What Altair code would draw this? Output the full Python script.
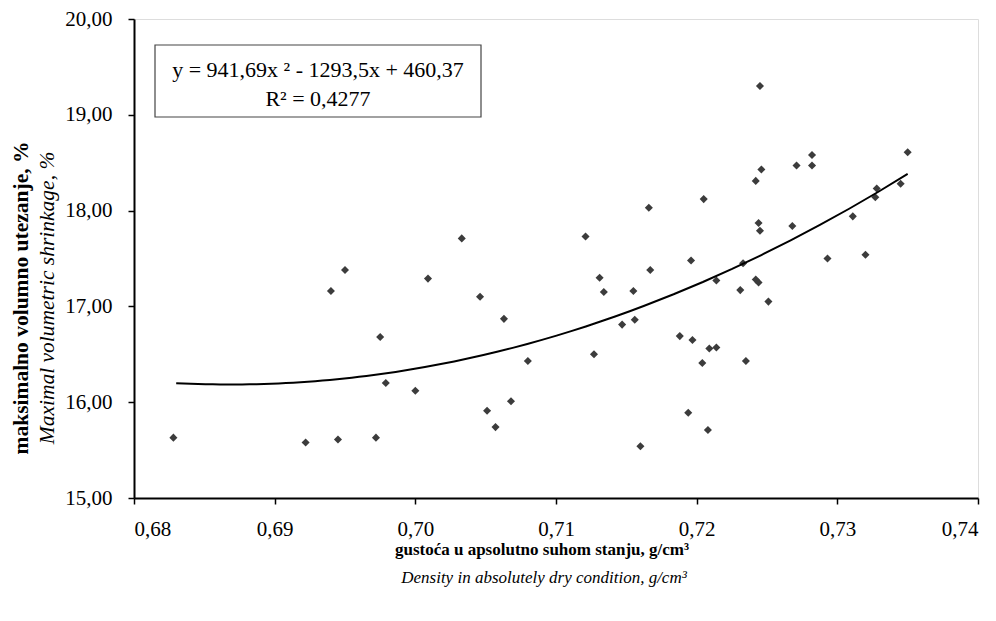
import altair as alt
import pandas as pd

density = [0.6828, 0.6950, 0.6940, 0.7009, 0.6975, 0.6979, 0.7000, 0.6922, 0.6945, 0.6972,
           0.7046, 0.7063, 0.7080, 0.7051, 0.7068, 0.7057, 0.7127, 0.7131, 0.7134, 0.7167,
           0.7155, 0.7147, 0.7156, 0.7160, 0.7196, 0.7188, 0.7197, 0.7194, 0.7233, 0.7214,
           0.7242, 0.7244, 0.7231, 0.7251, 0.7209, 0.7214, 0.7204, 0.7235, 0.7208, 0.7293,
           0.7320, 0.7245, 0.7282, 0.7271, 0.7282, 0.7246, 0.7242, 0.7350, 0.7345, 0.7328,
           0.7327, 0.7311, 0.7205, 0.7244, 0.7245, 0.7268, 0.7033, 0.7121, 0.7166]
shrinkage = [15.63, 17.38, 17.16, 17.29, 16.68, 16.20, 16.12, 15.58, 15.61, 15.63,
             17.10, 16.87, 16.43, 15.91, 16.01, 15.74, 16.50, 17.30, 17.15, 17.38,
             17.16, 16.81, 16.86, 15.54, 17.48, 16.69, 16.65, 15.89, 17.45, 17.27,
             17.28, 17.25, 17.17, 17.05, 16.56, 16.57, 16.41, 16.43, 15.71, 17.50,
             17.54, 19.30, 18.58, 18.47, 18.47, 18.43, 18.31, 18.61, 18.28, 18.23,
             18.14, 17.94, 18.12, 17.87, 17.79, 17.84, 17.71, 17.73, 18.03]

x_ticks = [0.68, 0.69, 0.70, 0.71, 0.72, 0.73, 0.74]
y_ticks = [15, 16, 17, 18, 19, 20]

eq_line1 = "y = 941,69x ² - 1293,5x + 460,37"
eq_line2 = "R² = 0,4277"
y_title_bold = "maksimalno volumno utezanje, %"
y_title_italic = "Maximal volumetric shrinkage, %"
x_title_bold = "gustoća u apsolutno suhom stanju, g/cm³"
x_title_italic = "Density in absolutely dry condition, g/cm³"

df = pd.DataFrame({"density": density, "shrinkage": shrinkage})

FONT = "Liberation Serif"
W, H = 844, 479

xs = alt.X("density:Q", scale=alt.Scale(domain=[0.68, 0.74], nice=False, zero=False),
           axis=alt.Axis(values=x_ticks, title=None, grid=False,
                         labelExpr="replace(format(datum.value, '.2f'), '.', ',')",
                         labelFont=FONT, labelFontSize=21, labelColor="black",
                         labelPadding=14, tickSize=6, tickColor="black",
                         domainColor="black", domainWidth=2, tickWidth=1.5))
ys = alt.Y("shrinkage:Q", scale=alt.Scale(domain=[15, 20], nice=False, zero=False),
           axis=alt.Axis(values=y_ticks, title=None, grid=False,
                         labelExpr="replace(format(datum.value, '.2f'), '.', ',')",
                         labelFont=FONT, labelFontSize=21, labelColor="black",
                         labelPadding=16, tickSize=6, tickColor="black",
                         domainColor="black", domainWidth=2, tickWidth=1.5))

base = alt.Chart(df)

points = base.mark_point(shape="diamond", filled=True, color="#3c3c3c", size=65, opacity=1).encode(
    x=xs, y=ys)

trend = base.transform_regression(
    "density", "shrinkage", method="poly", order=2, extent=[0.683, 0.735]
).mark_line(color="black", strokeWidth=2).encode(x=xs, y=ys)

box = alt.Chart(pd.DataFrame({"a": [0]})).mark_rect(
    fill="white", stroke="#444444", strokeWidth=1.2
).encode(x=alt.value(21), x2=alt.value(347), y=alt.value(26), y2=alt.value(98))

def label(text, x, y, size=19, weight="normal", style="normal", angle=0, align="center"):
    return alt.Chart(pd.DataFrame({"t": [text]})).mark_text(
        font=FONT, fontSize=size, fontWeight=weight, fontStyle=style, color="black",
        angle=angle, align=align, baseline="middle"
    ).encode(x=alt.value(x), y=alt.value(y), text="t:N")

eq1 = label(eq_line1, 184, 51, size=22)
eq2 = label(eq_line2, 184, 80, size=22)

ytb = label(y_title_bold, -112, 279, size=21.5, weight="bold", angle=270)
yti = label(y_title_italic, -86, 279, size=21.5, style="italic", angle=270)
xtb = label(x_title_bold, 408, 531, size=17, weight="bold")
xti = label(x_title_italic, 410, 559, size=17, style="italic")

chart = alt.layer(points, trend, box, eq1, eq2, ytb, yti, xtb, xti).properties(
    width=W, height=H,
    autosize=alt.AutoSizeParams(type="none"),
    padding={"left": 126, "top": 11, "right": 10, "bottom": 115},
).configure_view(stroke="#7f7f7f", strokeWidth=1.5).configure(background="white")

chart.save("out.html", embed_options={"renderer": "svg", "actions": False})
